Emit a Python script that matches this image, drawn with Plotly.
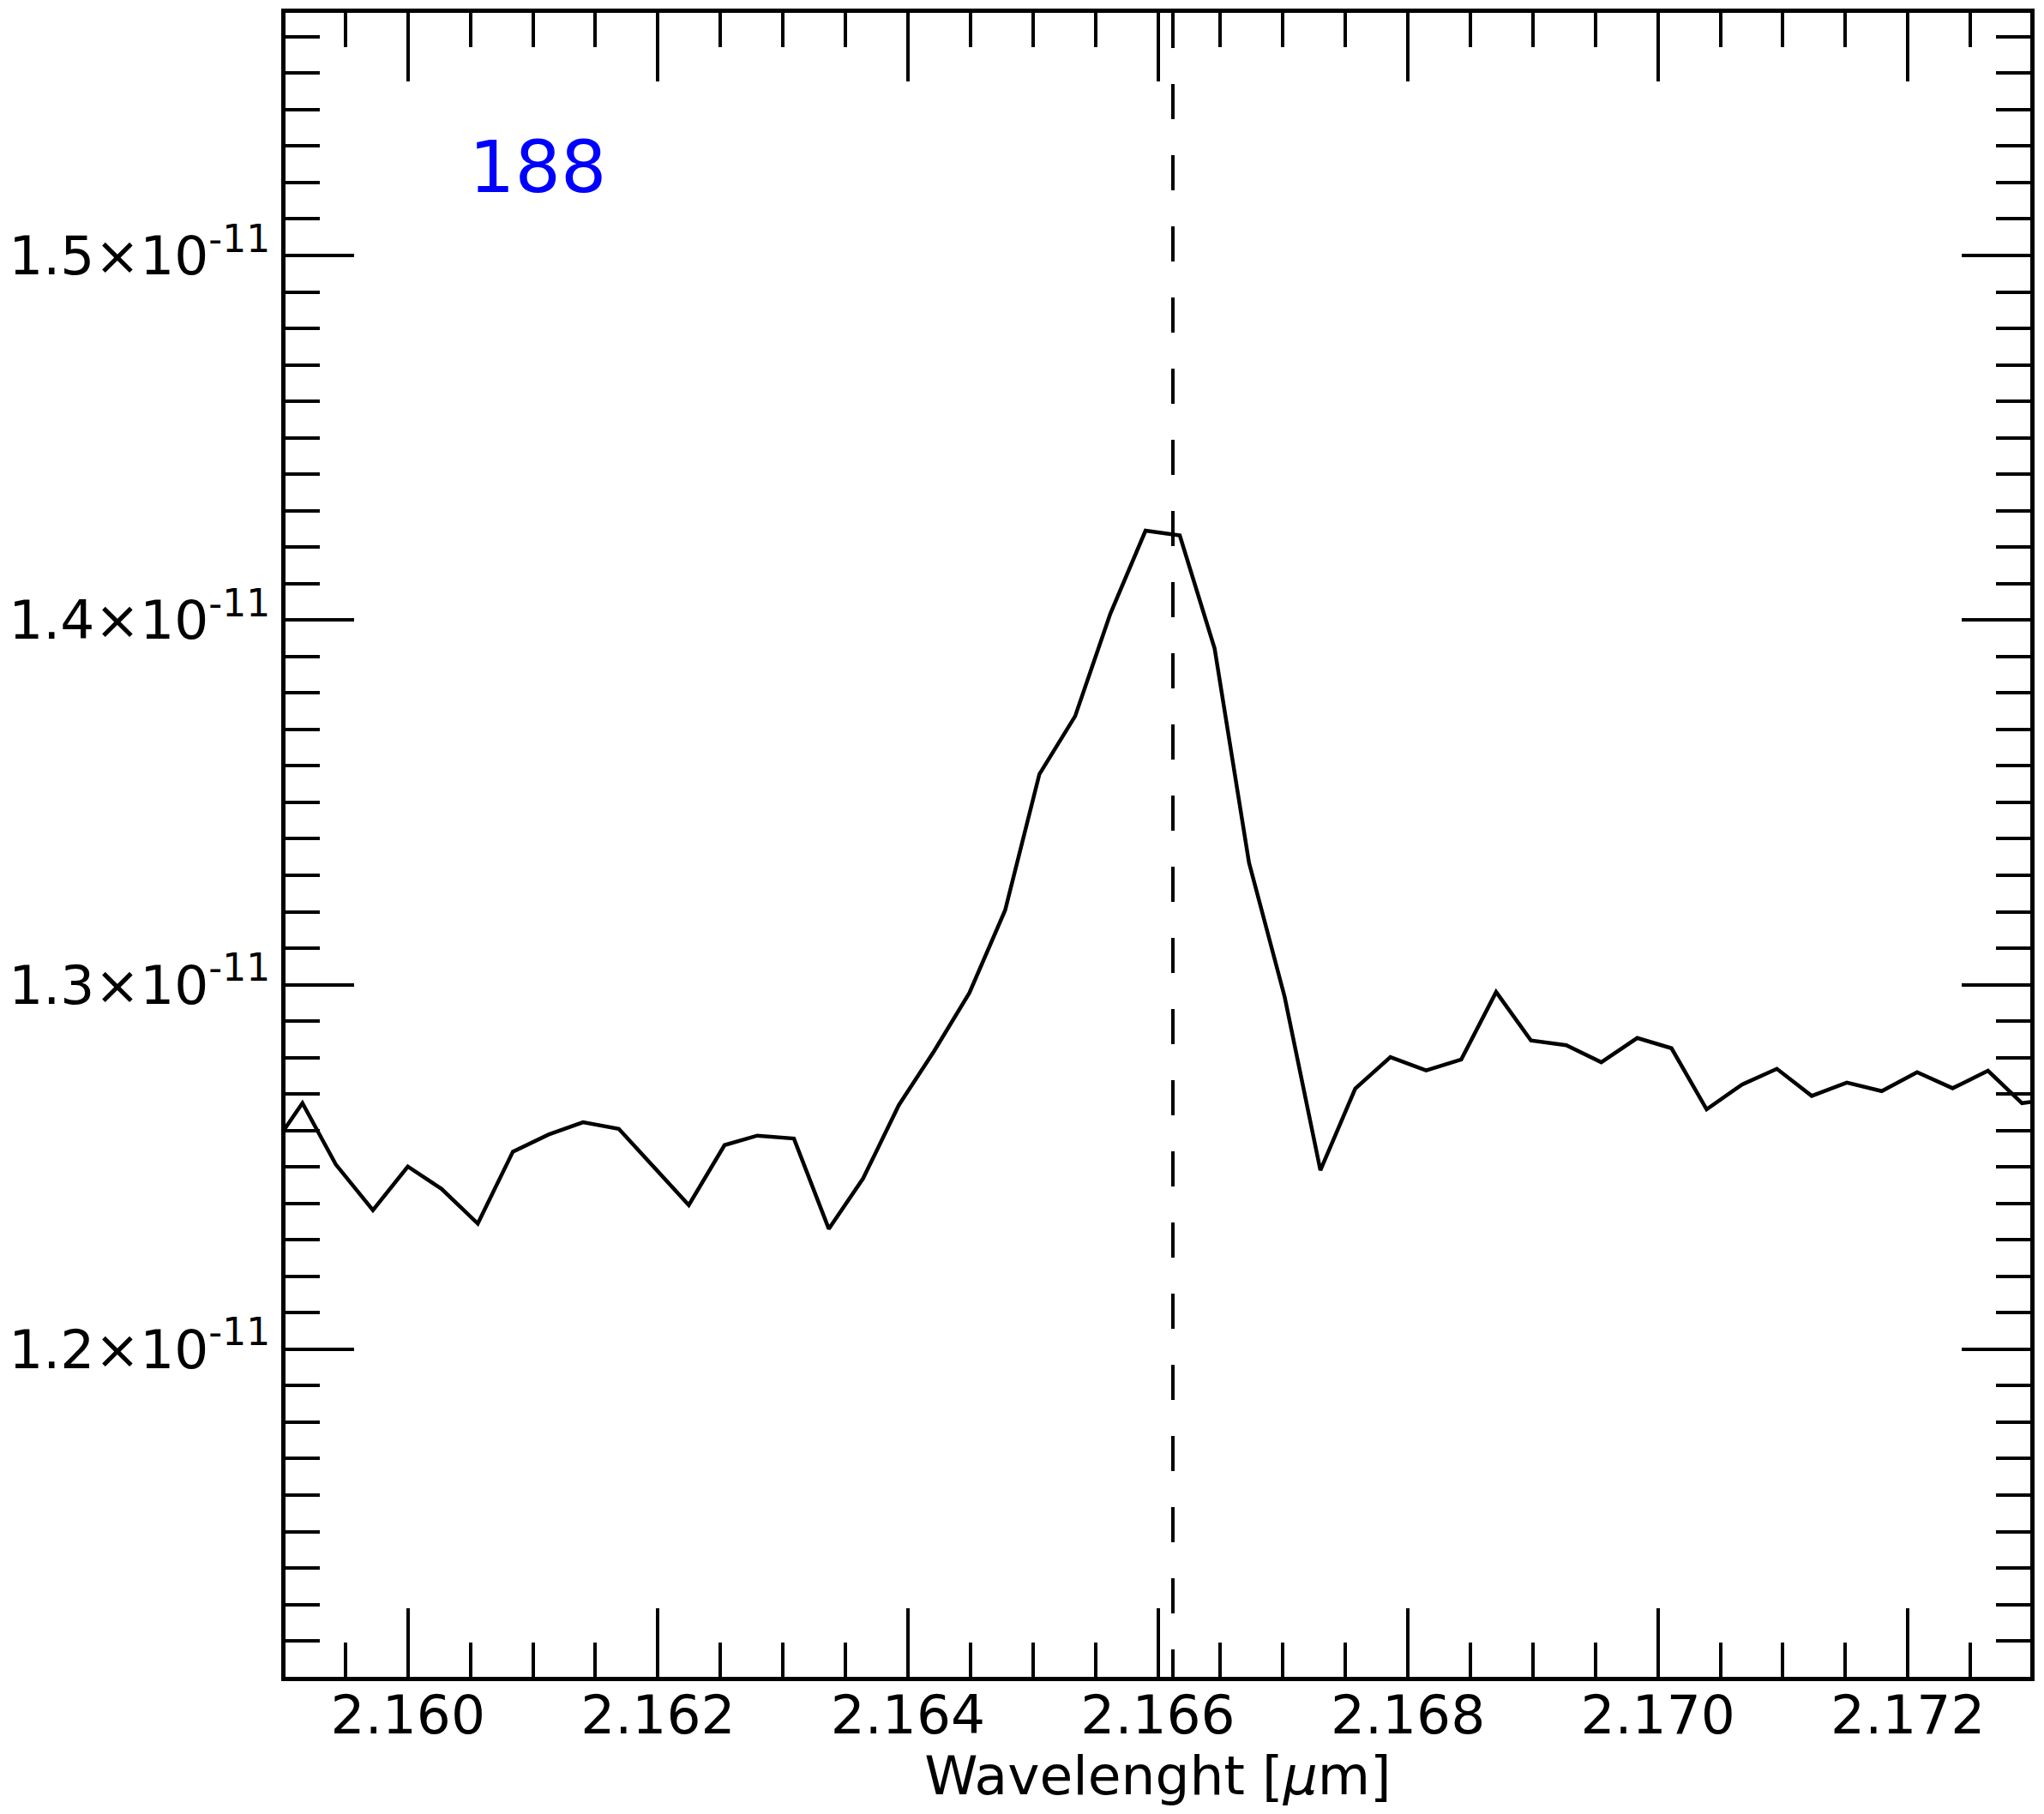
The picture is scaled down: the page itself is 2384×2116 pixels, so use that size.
import plotly.graph_objects as go

# wavelength [um] and flux
wavelength = [
    2.158874, 2.159156, 2.159423, 2.159720, 2.159999, 2.160269, 2.160559, 2.160840,
    2.161126, 2.161401, 2.161687, 2.161968, 2.162247, 2.162533, 2.162795, 2.163088,
    2.163367, 2.163642, 2.163927, 2.164208, 2.164492, 2.164778, 2.165052, 2.165338,
    2.165619, 2.165901, 2.166175, 2.166454, 2.166729, 2.167014, 2.167300, 2.167579,
    2.167860, 2.168146, 2.168427, 2.168706, 2.168985, 2.169267, 2.169547, 2.169835,
    2.170109, 2.170390, 2.170673, 2.170952, 2.171231, 2.171512, 2.171791, 2.172074,
    2.172358, 2.172641, 2.172913, 2.173196,
]
flux_e11 = [
    1.25348, 1.26751, 1.25068, 1.23813, 1.25012, 1.24400, 1.23446, 1.25421,
    1.25891, 1.26227, 1.26046, 1.25004, 1.23954, 1.25599, 1.25860, 1.25780,
    1.23303, 1.24687, 1.26695, 1.28169, 1.29774, 1.32043, 1.35773, 1.37365,
    1.40169, 1.42452, 1.42320, 1.39217, 1.33347, 1.29668, 1.24908, 1.27151,
    1.28014, 1.27647, 1.27948, 1.29800, 1.28469, 1.28338, 1.27873, 1.28538,
    1.28256, 1.26580, 1.27261, 1.27691, 1.26949, 1.27315, 1.27080, 1.27598,
    1.27160, 1.27638, 1.26751, 1.26885,
]
flux = [v * 1e-11 for v in flux_e11]

line_center = 2.16612
label = "188"

y_ticks = [1.2e-11, 1.3e-11, 1.4e-11, 1.5e-11]
y_tick_text = ["1.2×10<sup>-11</sup>", "1.3×10<sup>-11</sup>",
               "1.4×10<sup>-11</sup>", "1.5×10<sup>-11</sup>"]

FONT = "DejaVu Sans"

fig = go.Figure()
fig.add_trace(go.Scatter(
    x=wavelength, y=flux, mode="lines",
    line=dict(color="black", width=4.5),
    showlegend=False,
))

fig.add_shape(
    type="line", xref="x", yref="paper",
    x0=line_center, x1=line_center, y0=1, y1=0,
    line=dict(color="black", width=4, dash="41px,42px"),
)

fig.add_annotation(
    text=label, xref="paper", yref="paper", x=0.104, y=0.9075,
    xanchor="left", yanchor="middle", showarrow=False,
    font=dict(family=FONT, size=84, color="#0000ff"),
)

axis_common = dict(
    showline=True, linecolor="black", linewidth=5, mirror="allticks",
    ticks="inside", ticklen=80, tickwidth=4, tickcolor="black",
    showgrid=False, zeroline=False,
    tickfont=dict(family=FONT, size=63, color="black"),
)

fig.update_xaxes(
    range=[2.1590206, 2.1729794], tick0=2.16, dtick=0.002, tickformat=".3f",
    minor=dict(ticks="inside", ticklen=40, tickwidth=4, tickcolor="black",
               tick0=2.16, dtick=0.0005),
    title=dict(text="Wavelenght [<i>μ</i>m]", font=dict(family=FONT, size=63, color="black"),
               standoff=18),
    ticklabelstandoff=-15,
    **axis_common,
)
fig.update_yaxes(
    range=[1.110158e-11, 1.566541e-11], tickmode="array",
    tickvals=y_ticks, ticktext=y_tick_text,
    minor=dict(ticks="inside", ticklen=40, tickwidth=4, tickcolor="black",
               tick0=1.1e-11, dtick=1e-13),
    **axis_common,
)

# the page body has an 8px margin, so the figure is shrunk to fit the window;
# plot area is inset a few px because plotly draws the frame outside it
fig.update_layout(
    width=2368, height=2100,
    margin=dict(l=325, r=8, t=7, b=152, autoexpand=False),
    paper_bgcolor="white", plot_bgcolor="white",
    font=dict(family=FONT, color="black"),
)

fig.write_html("out.html")
